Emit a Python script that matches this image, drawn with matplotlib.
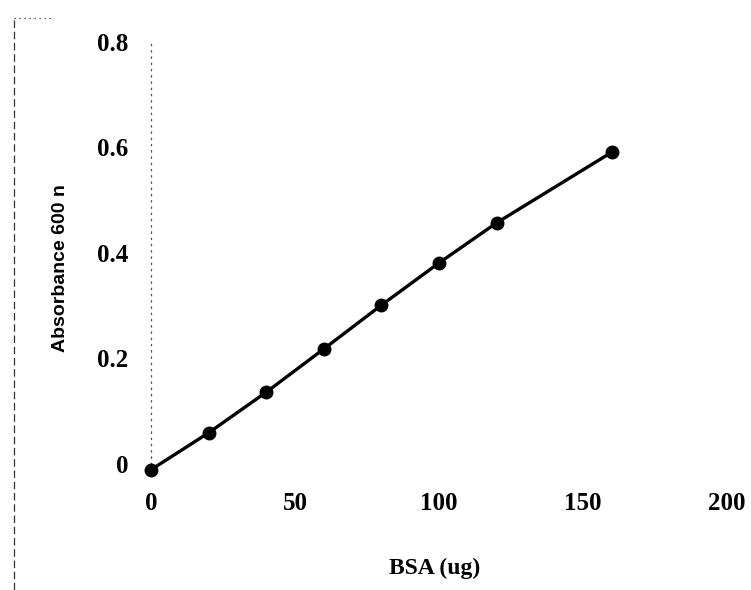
import numpy as np
import matplotlib
matplotlib.use("Agg")
from matplotlib import pyplot as plt
from matplotlib.lines import Line2D

# BSA standard curve
bsa = [0, 20, 40, 60, 80, 100, 120, 160]
absorbance = [-0.011, 0.059, 0.136, 0.218, 0.301, 0.381, 0.457, 0.591]

x_ticks = [0, 50, 100, 150, 200]
y_ticks = [0, 0.2, 0.4, 0.6, 0.8]
y_ticklabels = ['0', '0.2', '0.4', '0.6', '0.8']

fig = plt.figure(figsize=(7.51, 5.90), dpi=100)
ax = fig.add_axes([0.201, 0.2136, 0.767, 0.7153])

ax.plot(bsa, absorbance, color='black', lw=2.4, marker='o', markersize=9,
        clip_on=False, zorder=3)

ax.set_xlim(0, 200)
ax.set_ylim(0, 0.8)
ax.set_xticks(x_ticks)
ax.set_yticks(y_ticks)
ax.set_yticklabels(y_ticklabels)

for s in ['top', 'right', 'bottom']:
    ax.spines[s].set_visible(False)
ax.spines['left'].set_linestyle((0, (1, 4)))
ax.spines['left'].set_color('#555555')
ax.spines['left'].set_linewidth(0.9)

ax.tick_params(axis='x', length=0, pad=20)
ax.tick_params(axis='y', length=0, pad=16)
for lbl in ax.get_xticklabels() + ax.get_yticklabels():
    lbl.set_fontfamily('Liberation Serif')
    lbl.set_fontweight('bold')
    lbl.set_fontsize(18)

ax.set_xlabel('BSA (ug)', fontfamily='Liberation Serif', fontweight='bold', fontsize=17)
ax.xaxis.set_label_coords(0.493, -0.223)
ax.set_ylabel('Absorbance 600 n', fontfamily='Liberation Sans', fontweight='bold', fontsize=14)
ax.yaxis.set_label_coords(-0.143, 0.464)

# scan border remnant on the left
fig.add_artist(Line2D([0.019, 0.019], [0.0, 0.97], transform=fig.transFigure,
                      color='#333333', lw=0.9, ls=(0, (6, 3))))
fig.add_artist(Line2D([0.019, 0.07], [0.97, 0.97], transform=fig.transFigure,
                      color='#333333', lw=0.9, ls=(0, (1, 3))))

fig.savefig('out.png', dpi=100, facecolor='white')
